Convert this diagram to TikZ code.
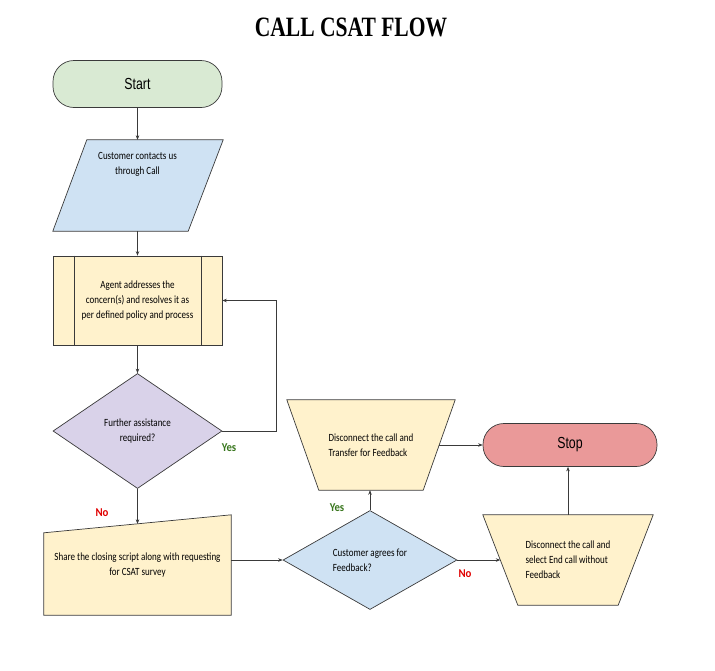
\documentclass[tikz,border=0pt]{standalone}
\usepackage{fontspec}
\setmainfont{Carlito}
\newfontfamily\bodyfont{Carlito}[FakeStretch=0.82]
\newfontfamily\lblfont{Carlito}[FakeStretch=0.9]
\newfontfamily\termfont{Liberation Sans}[FakeStretch=0.77]
\newfontfamily\titlefont{Liberation Serif}[FakeStretch=0.77]
\usepackage{xcolor}
\definecolor{edgegray}{HTML}{3A3A3A}
\definecolor{startgreen}{HTML}{D9EAD3}
\definecolor{inputblue}{HTML}{CFE2F3}
\definecolor{procyellow}{HTML}{FFF2CC}
\definecolor{asklavender}{HTML}{D9D2E9}
\definecolor{stopred}{HTML}{EA9999}
\definecolor{yesgreen}{HTML}{38761D}
\definecolor{nored}{HTML}{E00000}
\usetikzlibrary{shapes.geometric, arrows.meta, positioning, calc, backgrounds}

\begin{document}
\begin{tikzpicture}[x=1pt, y=-1pt,
    shapebox/.style={draw=edgegray, line width=0.7pt, inner sep=0pt, align=center,
        font={\bodyfont\fontsize{11}{15}\selectfont}},
    terminal/.style={shapebox, rounded corners=21pt, font={\termfont\fontsize{16}{18}\selectfont}},
    decision/.style={shapebox, diamond},
    flowtext/.style={inner sep=0pt, align=center, font={\bodyfont\fontsize{11}{15}\selectfont}},
    outline/.style={draw=edgegray, line width=0.7pt},
    yeslbl/.style={text=yesgreen, font={\lblfont\bfseries\fontsize{12}{14}\selectfont}},
    nolbl/.style={text=nored, font={\lblfont\bfseries\fontsize{12}{14}\selectfont}},
    arr/.style={draw=edgegray, line width=0.6pt, -{Stealth[length=4.5pt, width=3.5pt]}}]
    \useasboundingbox (0,0) rectangle (715,670);

    % Title
    \node[font={\titlefont\bfseries\fontsize{28}{30}\selectfont}] (title) at (351,27.5) {CALL CSAT FLOW};

    % Left column
    \node[terminal, fill=startgreen, minimum width=169pt, minimum height=47pt] (start) at (137.5,84) {Start};
    \node[flowtext, minimum width=170pt, minimum height=91pt] (contact) at (138,185.5) {};
    \node[flowtext] (contacttext) at (137.5,164.5) {Customer contacts us\\through Call};
    \node[shapebox, fill=procyellow, minimum width=169pt, minimum height=89pt] (agent) at (137.5,300.5)
        {Agent addresses the\\concern(s) and resolves it as\\per defined policy and process};
    \draw[outline] ([xshift=21.5pt]agent.north west) -- ([xshift=21.5pt]agent.south west)
        ([xshift=-21.5pt]agent.north east) -- ([xshift=-21.5pt]agent.south east);
    \node[decision, fill=asklavender, minimum width=169pt, minimum height=115pt] (further) at (137.5,431)
        {Further assistance\\required?};
    \node[flowtext, minimum width=187pt, minimum height=100pt] (share) at (137.5,565)
        {Share the closing script along with requesting\\for CSAT survey};
    \coordinate (sharetl) at ([yshift=-18pt]share.north west);
    \coordinate (sharein) at ($(sharetl)!0.5!(share.north east)$);

    % Right part
    \node[decision, fill=inputblue, align=left, minimum width=174pt, minimum height=99pt] (agrees) at (370,560)
        {Customer agrees for\\Feedback?};
    \node[flowtext, align=left, minimum width=168pt, minimum height=90pt] (transfer) at (371,445)
        {Disconnect the call and\\Transfer for Feedback};
    \node[flowtext, align=left, minimum width=170pt, minimum height=90pt] (endcall) at (568,560)
        {Disconnect the call and\\select End call without\\Feedback};
    \node[terminal, fill=stopred, minimum width=174pt, minimum height=43pt] (stop) at (570,445) {Stop};

    % Outlines drawn behind the texts
    \begin{scope}[on background layer]
        \draw[outline, fill=inputblue] ([xshift=34pt]contact.north west) -- (contact.north east)
            -- ([xshift=-35pt]contact.south east) -- (contact.south west) -- cycle;
        \draw[outline, fill=procyellow] (share.south west) -- (share.south east)
            -- (share.north east) -- (sharetl) -- cycle;
        \draw[outline, fill=procyellow] (transfer.north west) -- (transfer.north east)
            -- ([xshift=-32pt]transfer.south east) -- ([xshift=32pt]transfer.south west) -- cycle;
        \draw[outline, fill=procyellow] (endcall.north west) -- (endcall.north east)
            -- ([xshift=-35pt]endcall.south east) -- ([xshift=35pt]endcall.south west) -- cycle;
    \end{scope}

    % Connectors
    \draw[arr] (start) -- (start |- contact.north);
    \draw[arr] (start |- contact.south) -- (agent);
    \draw[arr] (agent) -- (further);
    \draw[arr] (further.east) -- ++(54pt,0) |- (agent.east);
    \draw[arr] (further.south) -- (sharein);
    \draw[arr] (share.east |- agrees.west) -- (agrees.west);
    \draw[arr] (agrees.north) -- (agrees.north |- transfer.south);
    \draw[arr] (agrees.east) -- ([xshift=17.5pt]endcall.west);
    \draw[arr] ([xshift=-16pt]transfer.east) -- (stop.west);
    \draw[arr] (endcall.north) -- (endcall.north |- stop.south);

    % Labels
    \node[yeslbl] (yes1) at (229,448) {Yes};
    \node[nolbl] (no1) at (102,513) {No};
    \node[yeslbl] (yes2) at (337,508) {Yes};
    \node[nolbl] (no2) at (465,574) {No};
\end{tikzpicture}
\end{document}
